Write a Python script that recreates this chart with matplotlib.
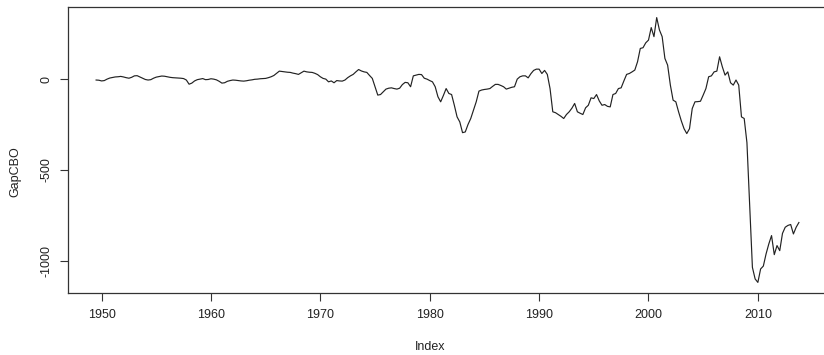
import numpy as np
import matplotlib
matplotlib.use("Agg")
import matplotlib.pyplot as plt

start_year = 1949.5
values = [
    -5, -6,
    -10, -8, 0, 6,
    9, 12, 13, 15,
    12, 8, 5, 10,
    18, 19, 12, 5,
    -2, -5, -3, 5,
    11, 14, 17, 16,
    13, 10, 8, 7,
    6, 5, 3, -5,
    -28, -22, -10, -3,
    0, 3, -3, -2,
    2, 0, -4, -12,
    -22, -20, -12, -8,
    -5, -6, -8, -10,
    -11, -9, -6, -4,
    -1, 0, 2, 3,
    4, 8, 13, 20,
    32, 44, 42, 40,
    38, 37, 33, 30,
    26, 35, 44, 40,
    38, 37, 32, 25,
    13, 4, 0, -15,
    -10, -20, -8, -10,
    -11, -5, 8, 18,
    26, 40, 53, 45,
    40, 37, 20, 4,
    -42, -88, -85, -70,
    -55, -50, -48, -52,
    -55, -50, -30, -18,
    -20, -42, 18, 22,
    26, 25, 5, 0,
    -8, -15, -42, -97,
    -125, -90, -52, -79,
    -85, -144, -208, -236,
    -295, -291, -250, -217,
    -170, -125, -66, -60,
    -57, -55, -52, -40,
    -29, -29, -35, -42,
    -55, -50, -45, -42,
    0, 13, 18, 18,
    7, 30, 48, 55,
    55, 31, 48, 26,
    -52, -180, -185, -195,
    -205, -217, -195, -180,
    -160, -134, -180, -188,
    -195, -158, -144, -103,
    -107, -85, -120, -144,
    -140, -150, -153, -85,
    -79, -52, -48, -10,
    26, 31, 40, 50,
    96, 169, 173, 200,
    215, 284, 234, 339,
    271, 234, 114, 77,
    -33, -116, -125, -180,
    -230, -273, -300, -273,
    -162, -125, -124, -122,
    -88, -52, 13, 18,
    40, 44, 123, 68,
    22, 40, -20, -33,
    -5, -33, -208, -217,
    -350, -700, -1037, -1101,
    -1120, -1046, -1030, -963,
    -908, -862, -967, -917,
    -945, -850, -816, -806,
    -801, -853, -816, -790,
]
x_ticks = [1950, 1960, 1970, 1980, 1990, 2000, 2010]
y_ticks = [-1000, -500, 0]
x_label = "Index"
y_label = "GapCBO"

t = start_year + 0.25 * np.arange(len(values))
v = np.array(values, dtype=float)

plt.rcParams['font.family'] = ['Liberation Sans', 'DejaVu Sans']
fig = plt.figure(figsize=(8.24, 3.55), dpi=100)
W, H = 824, 355
left, right, top, bottom = 68, 827, 7, 293
ax = fig.add_axes([left / W, (H - bottom) / H, (right - left) / W, (bottom - top) / H])

ax.plot(t, v, color='#222222', lw=0.85)

def rlim(a):
    lo, hi = np.min(a), np.max(a)
    d = (hi - lo) * 0.04
    return lo - d, hi + d

ax.set_xlim(*rlim(t))
ax.set_ylim(*rlim(v))
ax.set_xticks(x_ticks)
ax.set_yticks(y_ticks)
ax.set_yticklabels([str(y) for y in y_ticks], rotation=90, va='center')
ax.tick_params(direction='out', length=5.5, width=0.8, color='#333333',
               labelsize=9, labelcolor='#222222')
ax.tick_params(axis='x', pad=6)
ax.tick_params(axis='y', pad=6)
for s in ax.spines.values():
    s.set_color('#333333')
    s.set_linewidth(0.9)

fig.text(15 / W, 1 - 172 / H, y_label, rotation=90, ha='center', va='center',
         fontsize=9, color='#222222')
fig.text(430 / W, 1 - 347 / H, x_label, ha='center', va='center',
         fontsize=9, color='#222222')

fig.savefig("out.png", dpi=100)
